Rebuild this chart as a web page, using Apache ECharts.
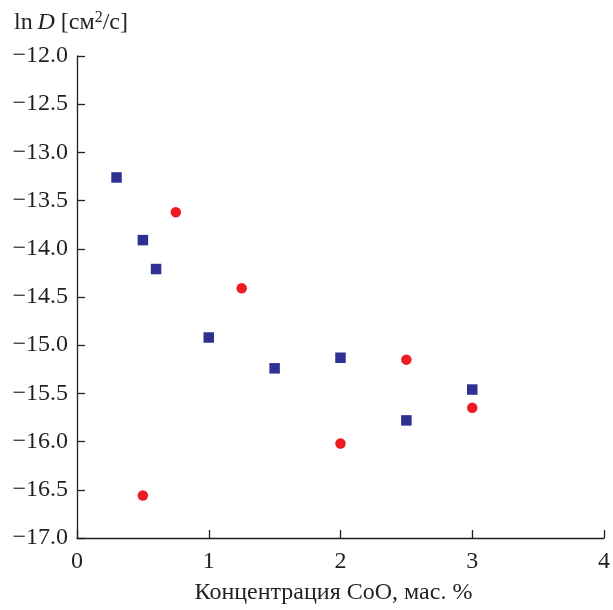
<!DOCTYPE html>
<html>
<head>
<meta charset="utf-8">
<script src="https://cdn.jsdelivr.net/npm/echarts@6/dist/echarts.min.js"></script>
<style>
  html, body { margin: 0; padding: 0; background: #fff; }
  #chart { width: 613px; height: 610px; }
</style>
</head>
<body>
<div id="chart"></div>
<script>
// Diffusion coefficient (ln D) versus CoO concentration, two sample series
const squareX = [0.3, 0.5, 0.6, 1.0, 1.5, 2.0, 2.5, 3.0];
const squareY = [-13.26, -13.91, -14.21, -14.92, -15.24, -15.13, -15.78, -15.46];
const circleX = [0.5, 0.75, 1.25, 2.0, 2.5, 3.0];
const circleY = [-16.56, -13.62, -14.41, -16.02, -15.15, -15.65];

const xTicks = [0, 1, 2, 3, 4];
const yTicks = [-17.0, -16.5, -16.0, -15.5, -15.0, -14.5, -14.0, -13.5, -13.0, -12.5, -12.0];

const xTitle = 'Концентрация CoO, мас. %';

const FONT = '"Liberation Serif", "DejaVu Serif", serif';
const INK = '#231f20';
const FS = 24;

const pairs = (xs, ys) => xs.map((x, i) => [x, ys[i]]);

const chart = echarts.init(document.getElementById('chart'), null, { renderer: 'canvas' });

chart.setOption({
  backgroundColor: '#ffffff',
  animation: false,
  title: {
    left: 9,
    top: 5,
    text: '{a|ln\u2009}{b|D}{a| [см}{s|2}{a|/с]}',
    textStyle: {
      fontWeight: 'normal',
      rich: {
        a: { fontFamily: FONT, fontSize: FS, fontWeight: 'normal', color: INK },
        b: { fontFamily: FONT, fontSize: FS, fontWeight: 'normal', fontStyle: 'italic', color: INK },
        s: { fontFamily: FONT, fontSize: 16, fontWeight: 'normal', color: INK, padding: [0, 0, 10, 0] }
      }
    }
  },
  grid: { left: 77, right: 7, top: 56, bottom: 67, containLabel: false },
  xAxis: {
    type: 'value',
    min: xTicks[0],
    max: xTicks[xTicks.length - 1],
    interval: 1,
    name: xTitle,
    nameLocation: 'middle',
    nameGap: 43,
    nameTextStyle: { fontFamily: FONT, fontSize: FS, color: INK, padding: [0, 14, 0, 0] },
    axisLine: { show: true, lineStyle: { color: INK, width: 1.3 } },
    axisTick: { show: true, inside: true, length: 8, lineStyle: { color: INK, width: 1.3 } },
    axisLabel: { fontFamily: FONT, fontSize: FS, color: INK, margin: 12 },
    splitLine: { show: false }
  },
  yAxis: {
    type: 'value',
    min: yTicks[0],
    max: yTicks[yTicks.length - 1],
    interval: 0.5,
    axisLine: { show: true, onZero: false, lineStyle: { color: INK, width: 1.3 } },
    axisTick: { show: true, inside: true, length: 8, lineStyle: { color: INK, width: 1.3 } },
    axisLabel: {
      fontFamily: FONT, fontSize: FS, color: INK, margin: 9,
      formatter: v => v.toFixed(1).replace('-', '\u2212')
    },
    splitLine: { show: false }
  },
  series: [
    {
      name: 'squares',
      type: 'scatter',
      symbol: 'rect',
      symbolSize: 10.5,
      itemStyle: { color: '#2e3192', opacity: 1 },
      data: pairs(squareX, squareY)
    },
    {
      name: 'circles',
      type: 'scatter',
      symbol: 'circle',
      symbolSize: 10.5,
      itemStyle: { color: '#ed1c24', opacity: 1 },
      data: pairs(circleX, circleY)
    }
  ]
});
</script>
</body>
</html>
